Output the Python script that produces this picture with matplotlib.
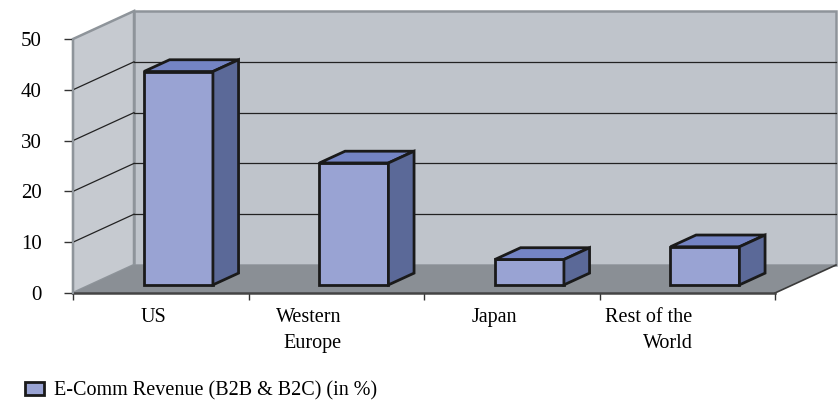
import numpy as np
import matplotlib.pyplot as plt
from matplotlib.patches import Polygon

# dati del grafico
regioni = ["US", "Western\nEurope", "Japan", "Rest of the\nWorld"]
ricavi = [42, 24, 5, 7.5]
serie = "E-Comm Revenue (B2B & B2C) (in %)"
tick_y = [0, 10, 20, 30, 40, 50]

plt.rcParams["font.family"] = ["Liberation Serif", "DejaVu Serif"]
plt.rcParams["font.size"] = 14.5

fig = plt.figure(figsize=(8.38, 4), dpi=100)
ax = fig.add_axes([73 / 838, 107 / 400, 702 / 838, 254 / 400])
n = len(regioni)
ymax = tick_y[-1]
ax.set_xlim(0, n)
ax.set_ylim(0, ymax)

# profondita' obliqua del pavimento (unita' dati) e posizione delle barre
dx, dy = 0.3476, 5.51
d0, d1 = 0.29, 0.71
w = 0.393

c_muro = "#bfc4cb"
c_lato = "#c6cad0"
c_bordo = "#8e949a"
c_pav = "#8a8f95"

# pareti e pavimento
lato = Polygon([(0, 0), (0, ymax), (dx, ymax + dy), (dx, dy)], closed=True,
               fc=c_lato, ec=c_bordo, lw=1.8, clip_on=False, zorder=0)
fondo = Polygon([(dx, dy), (dx, ymax + dy), (n + dx, ymax + dy), (n + dx, dy)], closed=True,
                fc=c_muro, ec=c_bordo, lw=1.8, clip_on=False, zorder=0)
pav = Polygon([(0, 0), (n, 0), (n + dx, dy), (dx, dy)], closed=True,
              fc=c_pav, ec="none", clip_on=False, zorder=0.5)
for p in (lato, fondo, pav):
    ax.add_patch(p)
ax.plot([n, n + dx], [0, dy], color="#3a3a3a", lw=1.2, clip_on=False, zorder=0.6)

# griglia su parete laterale e di fondo
for v in tick_y[1:-1]:
    ax.plot([0, dx], [v, v + dy], color="#222222", lw=0.9, clip_on=False, zorder=1)
    ax.plot([dx, n + dx], [v + dy, v + dy], color="#222222", lw=0.9, clip_on=False, zorder=1)

# barre: faccia frontale con ax.bar, sopra e lato come poligoni
bdx, bdy = (d1 - d0) * dx, (d1 - d0) * dy
x_front = np.arange(n) + 0.5 + d0 * dx
barre = ax.bar(x_front, ricavi, width=w, bottom=d0 * dy, color="#99a3d3",
               edgecolor="#1a1a1a", linewidth=2, zorder=3, label=serie)
for xc, v in zip(x_front, ricavi):
    xl, xr = xc - w / 2, xc + w / 2
    yb, yt = d0 * dy, d0 * dy + v
    top = Polygon([(xl, yt), (xl + bdx, yt + bdy), (xr + bdx, yt + bdy), (xr, yt)], closed=True,
                  fc="#7484c4", ec="#1a1a1a", lw=2, clip_on=False, zorder=3)
    side = Polygon([(xr, yb), (xr, yt), (xr + bdx, yt + bdy), (xr + bdx, yb + bdy)], closed=True,
                   fc="#5b6998", ec="#1a1a1a", lw=2, clip_on=False, zorder=3)
    ax.add_patch(top)
    ax.add_patch(side)

# assi
ax.spines["top"].set_visible(False)
ax.spines["right"].set_visible(False)
ax.spines["left"].set_color(c_bordo)
ax.spines["left"].set_linewidth(1.5)
ax.spines["bottom"].set_color("#444444")
ax.spines["bottom"].set_linewidth(1.8)
ax.spines["bottom"].set_zorder(2)

ax.set_yticks(tick_y)
ax.tick_params(axis="y", direction="out", length=6.5, width=1, color="#333333",
               pad=16, labelsize=15)
ax.set_xticks(np.arange(n + 1))
ax.set_xticklabels([""] * (n + 1))
ax.tick_params(axis="x", direction="out", length=5, width=1, color="#333333")

# etichette delle regioni, allineate a destra
for i, r in enumerate(regioni):
    ax.annotate(r, xy=(i + 0.5 + 0.03, 0), xycoords=("data", "axes fraction"),
                xytext=(0, -11), textcoords="offset points",
                ha="right", va="top", multialignment="right", linespacing=1.45)

fig.legend([barre], [serie], loc="center left", bbox_to_anchor=(25 / 838, 9 / 400),
           frameon=False, handlelength=0.93, handleheight=0.57, handletextpad=0.5,
           borderpad=0, borderaxespad=0)

fig.savefig("out.png", dpi=100)
